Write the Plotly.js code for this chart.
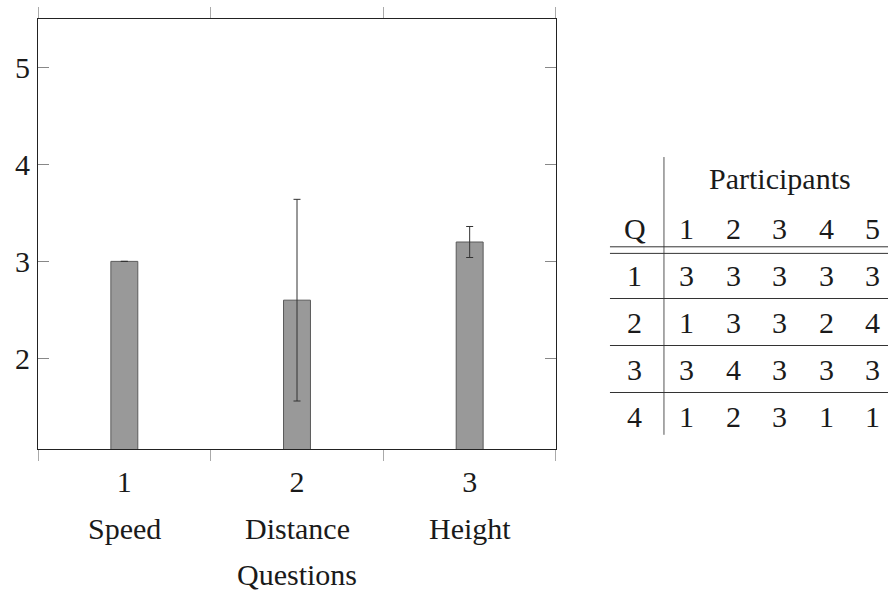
<!DOCTYPE html>
<html>
<head>
<meta charset="utf-8">
<script src="https://cdn.plot.ly/plotly-3.0.1.min.js"></script>
<style>html,body{margin:0;padding:0;background:#fff;}#chart{width:888px;height:591px;}</style>
</head>
<body>
<div id="chart"></div>
<script>
// ---- chart data ----
const questions = ["1", "2", "3"];
const questionNames = ["Speed", "Distance", "Height"];
const meanScores = [3.0, 2.6, 3.2];
const errorValues = [0.0, 1.04, 0.16];
const yTickVals = [2, 3, 4, 5];

// ---- table data ----
const tableHeader = "Participants";
const tableQLabel = "Q";
const participants = ["1", "2", "3", "4", "5"];
const questionIds = ["1", "2", "3", "4"];
const row1 = [3, 3, 3, 3, 3];
const row2 = [1, 3, 3, 2, 4];
const row3 = [3, 4, 3, 3, 3];
const row4 = [1, 2, 3, 1, 1];
const responses = [row1, row2, row3, row4];

const SERIF = "Times New Roman";
const FS = 30;
const TXT = "#1a1a1a";
function tf() { return {family: SERIF, size: FS, color: TXT}; }

const traces = [{
  type: "bar",
  x: questions,
  y: meanScores,
  width: 0.156,
  marker: {color: "#999999", line: {color: "#5a5a5a", width: 1}},
  error_y: {type: "data", array: errorValues, visible: true, color: "#333333", thickness: 1, width: 3.5},
  xaxis: "x", yaxis: "y",
  hoverinfo: "skip"
}];

const annotations = [];
const shapes = [];

// second-line category names under tick labels
questions.forEach((q, i) => {
  annotations.push({
    x: i, xref: "x", y: 0, yref: "paper", yanchor: "middle", yshift: -79,
    text: questionNames[i], showarrow: false, font: tf()
  });
});
// axis title
annotations.push({
  x: 1, xref: "x", y: 0, yref: "paper", yanchor: "middle", yshift: -125,
  text: "Questions", showarrow: false, font: tf()
});

// table drawn on hidden axes x2/y2
const qColX = -0.12;
const headerRow = -1.06;
annotations.push({x: 3, xref: "x2", y: headerRow, yref: "y2", text: tableHeader, showarrow: false, font: tf()});
annotations.push({x: qColX, xref: "x2", y: 0, yref: "y2", text: tableQLabel, showarrow: false, font: tf()});
participants.forEach((p, j) => {
  annotations.push({x: j + 1, xref: "x2", y: 0, yref: "y2", text: p, showarrow: false, font: tf()});
});
questionIds.forEach((q, i) => {
  annotations.push({x: qColX, xref: "x2", y: i + 1, yref: "y2", text: q, showarrow: false, font: tf()});
  responses[i].forEach((v, j) => {
    annotations.push({x: j + 1, xref: "x2", y: i + 1, yref: "y2", text: String(v), showarrow: false, font: tf()});
  });
});
// table rules
const lineStyle = {color: "#333333", width: 1};
shapes.push({type: "line", xref: "x2", yref: "y2", x0: 0.505, x1: 0.505, y0: -1.51, y1: 4.40, line: {color: "#555555", width: 1}});
shapes.push({type: "line", xref: "x2 domain", yref: "y2", x0: 0, x1: 1, y0: 0.40, y1: 0.40, line: lineStyle});
shapes.push({type: "line", xref: "x2 domain", yref: "y2", x0: 0, x1: 1, y0: 0.54, y1: 0.54, line: lineStyle});
[1.5, 2.5, 3.5].forEach(yv => {
  shapes.push({type: "line", xref: "x2 domain", yref: "y2", x0: 0, x1: 1, y0: yv, y1: yv, line: lineStyle});
});

const layout = {
  width: 888, height: 591,
  margin: {l: 38, r: 0, t: 19, b: 142, pad: 0},
  paper_bgcolor: "#ffffff", plot_bgcolor: "#ffffff",
  showlegend: false,
  xaxis: {
    domain: [0, 0.6094], type: "category", range: [-0.5, 2.5],
    tickson: "boundaries", ticks: "outside", ticklen: 11, tickcolor: "#aaaaaa", tickwidth: 1,
    showline: true, linecolor: "#222222", linewidth: 1, mirror: "ticks",
    showgrid: false, zeroline: false, ticklabelstandoff: 6,
    tickfont: tf()
  },
  yaxis: {
    domain: [0, 1], range: [1.065, 5.5],
    tickvals: yTickVals, ticks: "inside", ticklen: 11, tickcolor: "#888888", tickwidth: 1,
    showline: true, linecolor: "#222222", linewidth: 1, mirror: "ticks",
    showgrid: false, zeroline: false, ticklabelstandoff: 1,
    tickfont: tf()
  },
  xaxis2: {domain: [0.6729, 1], range: [-0.656, 5.323], visible: false, anchor: "y2", fixedrange: true},
  yaxis2: {domain: [0, 1], range: [4.702, -4.447], visible: false, anchor: "x2", fixedrange: true},
  annotations: annotations,
  shapes: shapes
};

Plotly.newPlot("chart", traces, layout, {staticPlot: true, displayModeBar: false});
</script>
</body>
</html>
